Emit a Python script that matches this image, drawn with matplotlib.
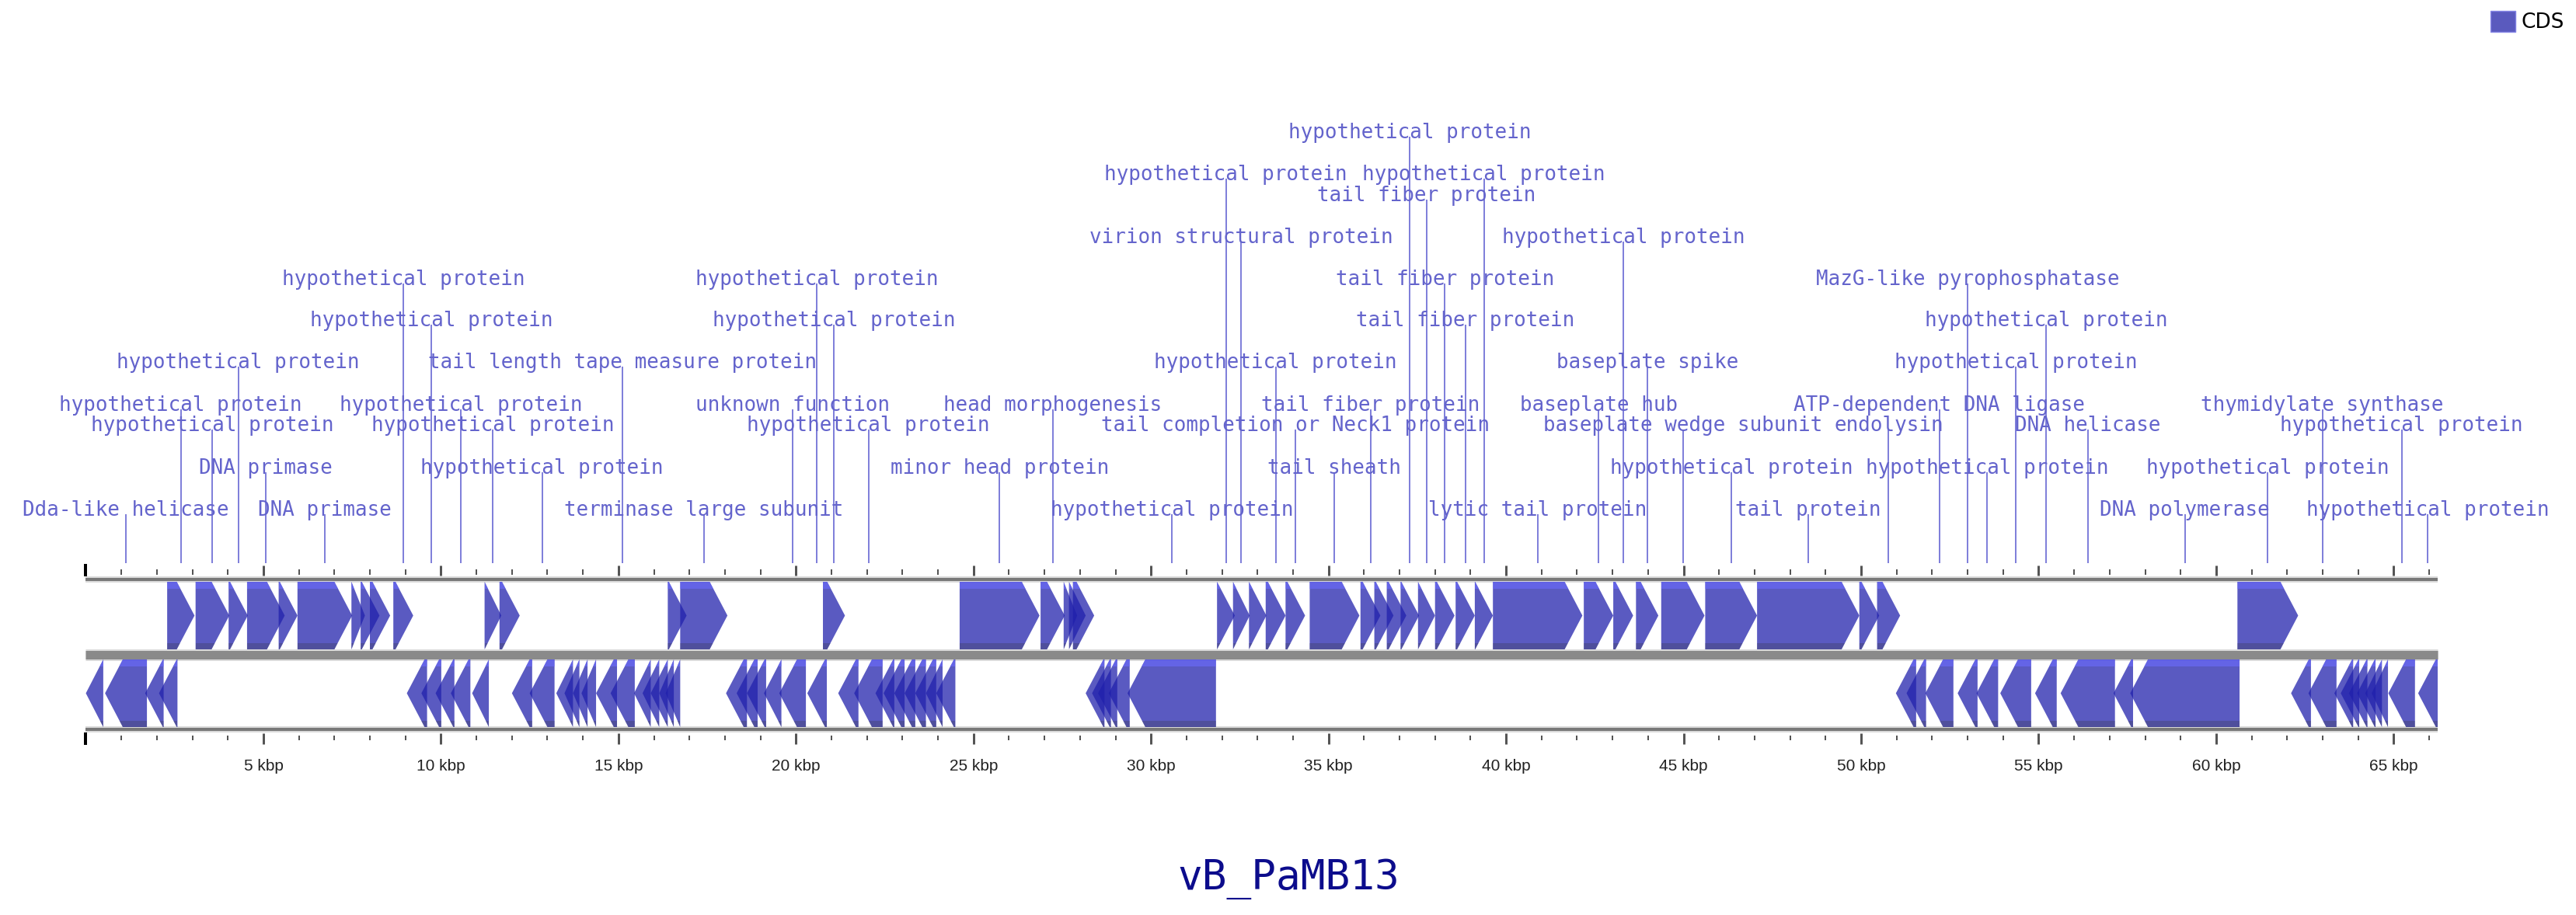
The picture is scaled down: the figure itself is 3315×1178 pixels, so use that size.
import matplotlib.pyplot as plt
from matplotlib.patches import Polygon, Rectangle, Patch

# genome map of phage vB_PaMB13 (positions in kbp)
genome_name = 'vB_PaMB13'
genome_kbp = 66.24

# forward strand CDS
fwd_start = [2.29, 3.09, 4.02, 4.54, 5.43, 5.96, 7.48, 7.74, 8.00, 8.66,
             11.23, 11.65, 16.39, 16.74, 20.76, 24.61, 26.89, 27.54, 27.69, 27.80,
             31.86, 32.31, 32.76, 33.23, 33.79, 34.47, 35.90, 36.29, 36.64, 37.03,
             37.52, 38.00, 38.58, 39.12, 39.63, 42.19, 43.02, 43.66, 44.37, 45.61,
             47.07, 49.95, 50.45, 60.60]
fwd_end = [3.06, 4.04, 4.56, 5.60, 5.96, 7.50, 7.86, 8.27, 8.57, 9.22,
           11.70, 12.22, 16.92, 18.07, 21.38, 26.86, 27.57, 27.92, 28.16, 28.40,
           32.36, 32.78, 33.25, 33.79, 34.34, 35.87, 36.46, 36.83, 37.19, 37.55,
           38.00, 38.55, 39.12, 39.63, 42.15, 43.02, 43.58, 44.29, 45.59, 47.07,
           49.95, 50.51, 51.10, 62.31]
fwd_label = ['hypothetical protein', 'hypothetical protein', 'hypothetical protein', 'DNA primase', '',
             'DNA primase', '', '', '', 'hypothetical protein',
             'hypothetical protein', '', '', 'terminase large subunit', 'hypothetical protein',
             'minor head protein', 'head morphogenesis', '', '', '',
             'hypothetical protein', 'virion structural protein', '', 'hypothetical protein',
             'tail completion or Neck1 protein', 'tail sheath', 'tail fiber protein', '', '',
             'hypothetical protein', 'tail fiber protein', 'tail fiber protein', 'tail fiber protein',
             'hypothetical protein', 'lytic tail protein', 'baseplate hub', 'hypothetical protein',
             'baseplate spike', 'baseplate wedge subunit', 'hypothetical protein', 'tail protein', '',
             'endolysin', 'hypothetical protein']
fwd_level = [4, 3, 5, 2, 0, 1, 0, 0, 0, 7,
             3, 0, 0, 1, 6, 2, 4, 0, 0, 0,
             10, 8, 0, 5, 3, 2, 4, 0, 0, 11,
             9, 7, 6, 10, 1, 4, 8, 5, 3, 2,
             1, 0, 3, 2]

# reverse strand CDS
rev_start = [0.00, 0.54, 1.67, 2.06, 9.04, 9.45, 9.85, 10.28, 10.88, 12.00,
             12.50, 13.25, 13.48, 13.72, 13.96, 14.37, 14.78, 15.44, 15.68, 15.91,
             16.15, 16.33, 18.03, 18.33, 18.62, 19.10, 19.53, 20.32, 21.19, 21.64,
             22.24, 22.47, 22.77, 23.06, 23.36, 23.66, 23.95, 28.16, 28.34, 28.51,
             28.81, 29.34, 50.98, 51.28, 51.81, 52.72, 53.25, 53.92, 54.90, 55.62,
             57.11, 57.58, 62.11, 62.60, 63.33, 63.51, 63.74, 63.97, 64.20, 64.38,
             64.85, 65.69]
rev_end = [0.49, 1.72, 2.19, 2.58, 9.61, 10.01, 10.38, 10.83, 11.35, 12.57,
           13.20, 13.72, 13.90, 14.13, 14.37, 14.96, 15.46, 15.91, 16.15, 16.39,
           16.56, 16.74, 18.62, 18.92, 19.16, 19.59, 20.28, 20.87, 21.76, 22.44,
           22.77, 23.06, 23.36, 23.66, 23.95, 24.13, 24.49, 28.69, 28.87, 29.05,
           29.40, 31.83, 51.55, 51.83, 52.60, 53.28, 53.86, 54.79, 55.51, 57.15,
           57.66, 60.66, 62.67, 63.39, 63.86, 64.03, 64.26, 64.49, 64.67, 64.84,
           65.60, 66.24]
rev_label = ['', 'Dda-like helicase', '', '', '', 'hypothetical protein', '', 'hypothetical protein', '', '',
             'hypothetical protein', '', '', '', '', '', 'tail length tape measure protein', '', '', '',
             '', '', '', '', '', '', 'unknown function', 'hypothetical protein', '', 'hypothetical protein',
             '', '', '', '', '', '', '', '', '', '',
             '', 'hypothetical protein', '', '', 'ATP-dependent DNA ligase', 'MazG-like pyrophosphatase',
             'hypothetical protein', 'hypothetical protein', 'hypothetical protein', 'DNA helicase',
             '', 'DNA polymerase', '', 'thymidylate synthase', '', '', '', '', '', '',
             'hypothetical protein', 'hypothetical protein']
rev_level = [0, 1, 0, 0, 0, 6, 0, 4, 0, 0,
             2, 0, 0, 0, 0, 0, 5, 0, 0, 0,
             0, 0, 0, 0, 0, 0, 4, 7, 0, 3,
             0, 0, 0, 0, 0, 0, 0, 0, 0, 0,
             0, 1, 0, 0, 4, 7, 2, 5, 6, 3,
             0, 1, 0, 4, 0, 0, 0, 0, 0, 0,
             3, 1]

# ---- layout, in pixels of the output canvas ----
W, H = 3316, 1178
x0_px, px_per_kbp = 110.5, 45.69
level_y = {1: 657, 2: 603, 3: 548, 4: 522, 5: 467, 6: 413,
           7: 360, 8: 306, 9: 252, 10: 225, 11: 171}
fwd_lane = (749, 836)
rev_lane = (849, 936)
PT = 0.72  # px -> pt at dpi 100

gene_rgba = (32 / 255, 32 / 255, 172 / 255, 0.74)
label_color = '#6464cc'
leader_color = '#8080da'

fig = plt.figure(figsize=(W / 100, H / 100), dpi=100)
ax = fig.add_axes([0, 0, 1, 1])
ax.set_xlim(-x0_px / px_per_kbp, (W - x0_px) / px_per_kbp)
ax.set_ylim(H, 0)
ax.axis('off')


def draw_gene(s, e, strand, lane):
    top, bot = lane
    mid = (top + bot) / 2
    h = min(0.5, e - s)
    if strand > 0:
        pts = [(s, top), (e - h, top), (e, mid), (e - h, bot), (s, bot)]
    else:
        pts = [(e, top), (s + h, top), (s, mid), (s + h, bot), (e, bot)]
    body = Polygon(pts, closed=True, facecolor=gene_rgba, edgecolor='none', zorder=3)
    ax.add_patch(body)
    # lighter top edge, darker bottom edge
    for y0, y1, c in [(top, top + 9, (0.42, 0.42, 1.0, 0.6)),
                      (bot - 8, bot, (0.25, 0.25, 0.40, 0.40))]:
        band = Rectangle((s, y0), e - s, y1 - y0, facecolor=c, edgecolor='none', zorder=4)
        ax.add_patch(band)
        band.set_clip_path(body)


# backbone lines
for y, lw, c in [(746, 4, '#787878'), (842.5, 11, '#8a8a8a'), (939, 4, '#787878')]:
    ax.plot([0, genome_kbp], [y, y], color='#dadada', lw=(lw + 4) * PT,
            solid_capstyle='butt', zorder=1)
    ax.plot([0, genome_kbp], [y, y], color=c, lw=lw * PT, solid_capstyle='butt', zorder=2)

# ruler ticks above and below
kb = list(range(0, int(genome_kbp) + 1))
minor = [k for k in kb if k % 5]
major = [k for k in kb if k % 5 == 0 and k > 0]
ax.vlines(minor, 733, 740, color='#555555', lw=2 * PT, zorder=2)
ax.vlines(major, 728, 741, color='#555555', lw=3 * PT, zorder=2)
ax.vlines([0], 726, 742, color='black', lw=4 * PT, zorder=2)
ax.vlines(minor, 947, 953, color='#555555', lw=2 * PT, zorder=2)
ax.vlines(major, 944, 958, color='#555555', lw=3 * PT, zorder=2)
ax.vlines([0], 943, 959, color='black', lw=4 * PT, zorder=2)
for k in major:
    ax.text(k, 987, f'{k} kbp', ha='center', va='center', fontsize=15,
            family='Liberation Sans', color='#222222')

# genes + labels
for starts, ends, labels, levels, strand, lane in [
        (fwd_start, fwd_end, fwd_label, fwd_level, 1, fwd_lane),
        (rev_start, rev_end, rev_label, rev_level, -1, rev_lane)]:
    for s, e, lab, lev in zip(starts, ends, labels, levels):
        draw_gene(s, e, strand, lane)
        if lab:
            xc = (s + e) / 2
            y = level_y[lev]
            ax.plot([xc, xc], [y + 6, 724], color=leader_color, lw=2 * PT, zorder=5)
            ax.text(xc, y, lab, ha='center', va='center', fontsize=18.6,
                    family='DejaVu Sans Mono', color=label_color, zorder=6)

fig.text(0.5, 1 - 1132 / H, genome_name, ha='center', va='center', fontsize=38,
         family='DejaVu Sans Mono', color='#0c0c8c')

fig.legend(handles=[Patch(facecolor='#5a5abe', edgecolor='#8585e6', label='CDS')],
           loc='upper right', bbox_to_anchor=(3300 / W, 1 - 14 / H), frameon=False,
           prop={'family': 'DejaVu Sans', 'size': 19}, handlelength=1.2, handleheight=1.2,
           handletextpad=0.3, borderpad=0, borderaxespad=0)

fig.savefig('out.png', dpi=100, facecolor='white')
